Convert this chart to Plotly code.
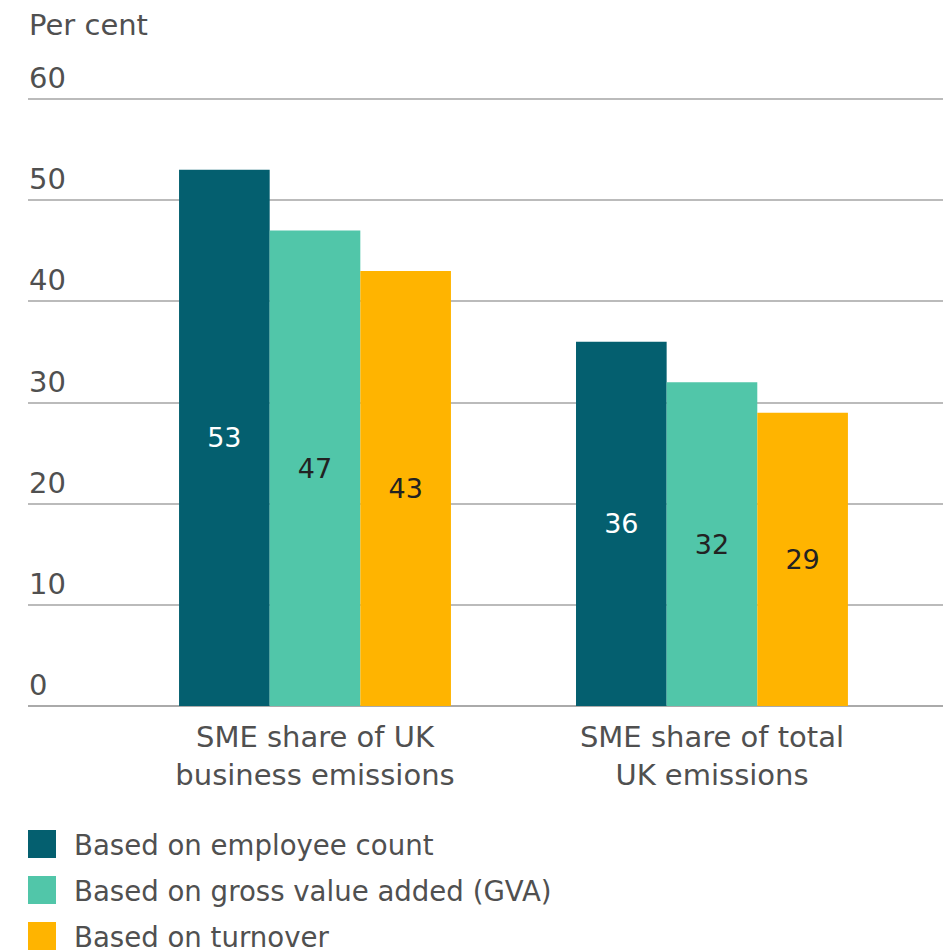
import plotly.graph_objects as go

# Data
categories = ["SME share of UK<br>business emissions", "SME share of total<br>UK emissions"]
series_names = [
    "Based on employee count",
    "Based on gross value added (GVA)",
    "Based on turnover",
]
employee_count = [53, 36]
gva = [47, 32]
turnover = [43, 29]
y_ticks = [0, 10, 20, 30, 40, 50, 60]

series_values = [employee_count, gva, turnover]
colors = ["#045F6F", "#51C6A9", "#FFB400"]
label_colors = ["#FFFFFF", "#222222", "#222222"]

FONT = "'DejaVu Sans', 'Open Sans', sans-serif"
TEXT_GREY = "#505050"

W, H = 951, 952
Y_MAX = 60.5
M_L, M_R, M_T, M_B = 28, 8, 94, 246
plot_h = H - M_T - M_B

fig = go.Figure()
for name, vals, col, lc in zip(series_names, series_values, colors, label_colors):
    fig.add_trace(go.Bar(
        x=categories,
        y=vals,
        name=name,
        marker=dict(color=col, line=dict(width=0)),
        text=[str(v) for v in vals],
        textposition="inside",
        insidetextanchor="middle",
        textangle=0,
        insidetextfont=dict(family=FONT, size=27, color=lc),
        showlegend=False,
        hoverinfo="skip",
    ))

def py_to_paper(py):
    return (H - M_B - py) / plot_h

def px_to_paper(px):
    return (px - M_L) / (W - M_L - M_R)

shapes = []
annotations = []

# Legend: square swatches with text, stacked below the plot
row_top = 830
for i, (name, col) in enumerate(zip(series_names, colors)):
    top = row_top + i * 46
    shapes.append(dict(
        type="rect", xref="paper", yref="paper",
        x0=px_to_paper(28), x1=px_to_paper(56),
        y0=py_to_paper(top + 28), y1=py_to_paper(top),
        fillcolor=col, line=dict(width=0),
    ))
    annotations.append(dict(
        text=name, xref="paper", yref="paper",
        x=px_to_paper(72), y=py_to_paper(top + 15),
        xanchor="left", yanchor="middle", showarrow=False,
        font=dict(family=FONT, size=27.6, color=TEXT_GREY),
    ))

# Y tick labels sit just above their gridlines at the left edge
for t in y_ticks:
    annotations.append(dict(
        text=str(t), xref="paper", yref="y",
        x=px_to_paper(27), y=t, yshift=21,
        xanchor="left", yanchor="middle", showarrow=False,
        font=dict(family=FONT, size=29, color=TEXT_GREY),
    ))

annotations.append(dict(
    text="Per cent", xref="paper", yref="paper",
    x=px_to_paper(27), y=py_to_paper(25),
    xanchor="left", yanchor="middle", showarrow=False,
    font=dict(family=FONT, size=29, color=TEXT_GREY),
))

fig.update_layout(
    width=W, height=H,
    margin=dict(l=M_L, r=M_R, t=M_T, b=M_B, pad=0),
    paper_bgcolor="white", plot_bgcolor="white",
    barmode="group", bargap=0.315, bargroupgap=0,
    font=dict(family=FONT, size=28, color=TEXT_GREY),
    shapes=shapes,
    annotations=annotations,
    uniformtext=dict(mode=False),
)
fig.update_xaxes(
    type="category",
    range=[-0.723, 1.582],
    showgrid=False, showline=False, zeroline=False,
    ticks="", ticklabelstandoff=11,
    tickfont=dict(family=FONT, size=29, color=TEXT_GREY),
    fixedrange=True,
)
fig.update_yaxes(
    range=[0, Y_MAX],
    tickvals=y_ticks,
    showticklabels=False,
    showgrid=True, gridcolor="#bbbbbb", gridwidth=1.5,
    zeroline=True, zerolinecolor="#aaaaaa", zerolinewidth=1.5,
    showline=False, ticks="",
    fixedrange=True,
)

fig.write_html("out.html")
